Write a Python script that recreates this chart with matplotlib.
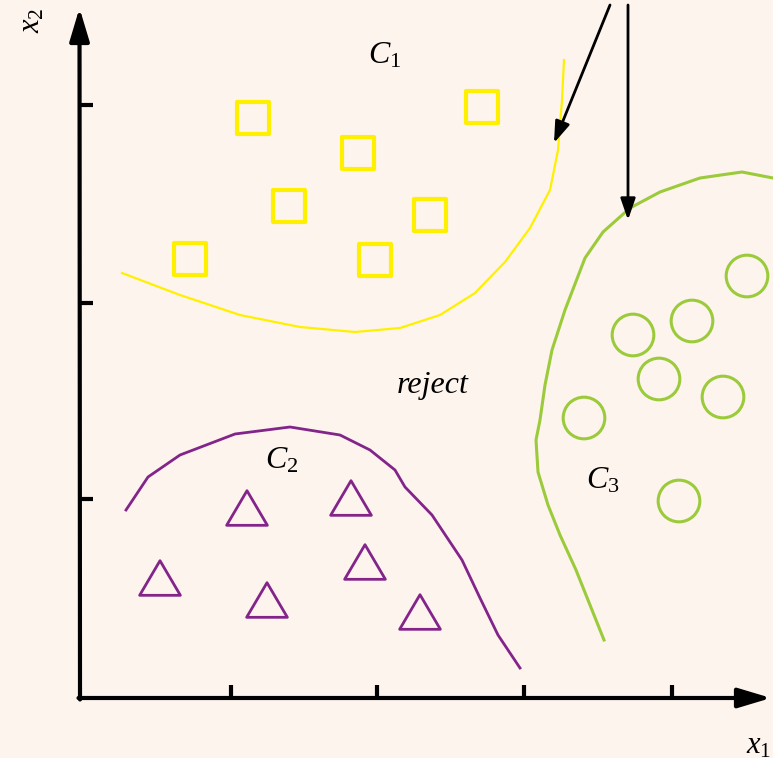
import matplotlib
matplotlib.use("Agg")
import matplotlib.pyplot as plt
from matplotlib.path import Path

plt.rcParams['mathtext.fontset'] = 'custom'
plt.rcParams['mathtext.it'] = 'Liberation Serif:italic'
plt.rcParams['mathtext.rm'] = 'Liberation Serif'

BG = '#FDF4EE'
YELLOW = '#FFF000'
GREEN = '#9BCB3A'
PURPLE = '#83248A'

# Data in pixel-like units relative to the origin (x right, y up)
class1_x = [173, 402, 278, 209, 350, 110, 295]
class1_y = [580, 591, 545, 492, 483, 439, 438]

class2_x = [167, 271, 80, 285, 187, 340]
class2_y = [190, 200, 120, 136, 98, 86]

class3_x = [667, 553, 612, 579, 643, 504, 599]
class3_y = [422, 363, 377, 319, 301, 280, 197]

bound1_x = [42, 100, 160, 220, 275, 320, 360, 395, 425, 450, 470, 478, 482, 484]
bound1_y = [425, 403, 383, 371, 366, 370, 383, 405, 436, 470, 508, 548, 598, 638]

bound2_x = [46, 68, 100, 155, 210, 260, 290, 315, 325, 352, 382, 400, 418, 440]
bound2_y = [188, 221, 243, 264, 271, 263, 248, 228, 211, 183, 138, 100, 63, 30]

bound3_x = [524, 510, 496, 480, 468, 458, 456, 460, 465, 472, 485, 505, 523, 550, 580, 620, 662, 693]
bound3_y = [58, 93, 128, 163, 193, 226, 258, 278, 313, 348, 388, 440, 466, 490, 506, 520, 526, 520]

xticks = [151, 297, 444, 592]
yticks = [199, 395, 593]

fig = plt.figure(figsize=(7.73, 7.58), dpi=100, facecolor=BG)
ax = fig.add_axes([0, 0, 1, 1])
ax.set_facecolor(BG)
ax.set_xlim(-80, 693)
ax.set_ylim(-60, 698)
ax.axis('off')

# axes with arrows
big = dict(arrowstyle='-|>,head_length=2.0,head_width=0.6', lw=3, color='black', shrinkA=0, shrinkB=0)
ax.annotate('', xy=(-0.5, 690), xytext=(0, -1.5), arrowprops=big)
ax.annotate('', xy=(691, 0), xytext=(-1.5, 0), arrowprops=big)
for t in xticks:
    ax.plot([t, t], [0, 13], color='black', lw=3, solid_capstyle='butt')
for t in yticks:
    ax.plot([0, 13], [t, t], color='black', lw=3, solid_capstyle='butt')

# boundaries
ax.plot(bound1_x, bound1_y, color=YELLOW, lw=1.6)
ax.plot(bound2_x, bound2_y, color=PURPLE, lw=2.0)
ax.plot(bound3_x, bound3_y, color=GREEN, lw=2.2)

# markers
tri = Path([(-1, -0.85), (1, -0.85), (0, 0.85), (-1, -0.85)],
           [Path.MOVETO, Path.LINETO, Path.LINETO, Path.CLOSEPOLY])
ax.scatter(class1_x, class1_y, marker='s', s=560, facecolors='none', edgecolors=YELLOW, linewidths=3.0)
ax.scatter(class2_x, class2_y, marker=tri, s=860, facecolors='none', edgecolors=PURPLE, linewidths=2.0)
ax.scatter(class3_x, class3_y, marker='o', s=900, facecolors='none', edgecolors=GREEN, linewidths=2.2)

# pointer arrows
small = dict(arrowstyle='-|>,head_length=1.3,head_width=0.45', lw=2, color='black', shrinkA=0, shrinkB=0)
ax.annotate('', xy=(474, 555), xytext=(530, 693), arrowprops=small)
ax.annotate('', xy=(548, 478), xytext=(548, 693), arrowprops=small)

# labels
ax.text(305, 643, r'$C_{\mathit{1}}$', fontsize=23, ha='center', va='center')
ax.text(202, 238, r'$C_{2}$', fontsize=23, ha='center', va='center')
ax.text(523, 218, r'$C_{\mathit{3}}$', fontsize=23, ha='center', va='center')
ax.text(353, 313, 'reject', fontsize=23, family='Liberation Serif', style='italic', ha='center', va='center')
ax.text(-48, 678, r'$x_{2}$', fontsize=22, ha='center', va='center', rotation=90)
ax.text(691, -47, r'$x_{1}$', fontsize=22, ha='right', va='center')

fig.savefig('out.png', dpi=100, facecolor=BG)
